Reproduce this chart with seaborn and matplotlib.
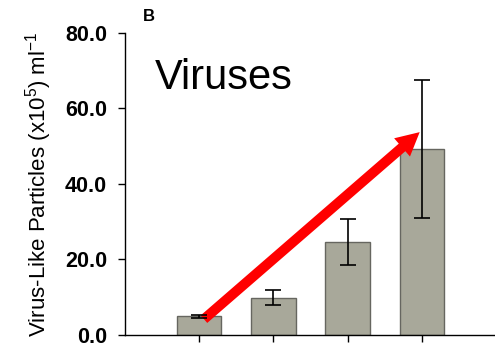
import matplotlib
matplotlib.use("Agg")
import matplotlib.pyplot as plt
import seaborn as sns
import pandas as pd

groups = ["G1", "G2", "G3", "G4"]
values = [4.9, 9.9, 24.6, 49.2]
errors = [0.3, 1.9, 6.1, 18.3]
yticks = [0, 20, 40, 60, 80]
ytick_labels = ["0.0", "20.0", "40.0", "60.0", "80.0"]

sns.set_theme(style="white")
plt.rcParams['font.family'] = ['Liberation Sans', 'DejaVu Sans']
plt.rcParams['mathtext.default'] = 'regular'
plt.rcParams['text.color'] = 'black'
plt.rcParams['axes.labelcolor'] = 'black'
plt.rcParams['xtick.color'] = 'black'
plt.rcParams['ytick.color'] = 'black'

df = pd.DataFrame({"group": groups, "value": values})

fig = plt.figure(figsize=(4.95, 3.5), dpi=100)
ax = fig.add_axes([0.2525, 0.043, 0.745, 0.863])

sns.barplot(data=df, x="group", y="value", ax=ax, color="#a8a89a",
            edgecolor="#666660", linewidth=1.0, width=0.6, saturation=1)
for i, (v, e) in enumerate(zip(values, errors)):
    ax.errorbar(i, v, yerr=e, color="black", capsize=6, capthick=1.2,
                elinewidth=1.2, zorder=5)

ax.set_xlim(-1, 3.97)
ax.set_ylim(0, 80)
ax.set_yticks(yticks)
ax.set_yticklabels(ytick_labels, fontsize=15.5, fontweight="bold", color="black")
ax.set_xticks(range(len(groups)))
ax.set_xticklabels([])
ax.set_xlabel("")
ax.set_ylabel("Virus-Like Particles (x10$^{5}$) ml$^{-1}$", fontsize=16,
              labelpad=8, color="black")
ax.tick_params(axis="both", direction="out", length=5, width=1, color="black",
               left=True, bottom=True)
ax.tick_params(axis="y", pad=8)
for s in ["top", "right"]:
    ax.spines[s].set_visible(False)
for s in ["left", "bottom"]:
    ax.spines[s].set_color("black")
    ax.spines[s].set_linewidth(1)

ax.text(-0.6, 68.0, "Viruses", fontsize=30, color="black", va="center")
fig.text(0.289, 0.954, "B", fontsize=12, fontweight="bold", va="center")

ax.annotate("", xy=(3.0, 54.2), xytext=(0.036, 3.7),
            arrowprops=dict(arrowstyle="simple,head_length=1.4,head_width=1.45,tail_width=0.6",
                            color="#ff0000", lw=0, mutation_scale=12),
            zorder=4)

fig.savefig("out.png", dpi=100)
